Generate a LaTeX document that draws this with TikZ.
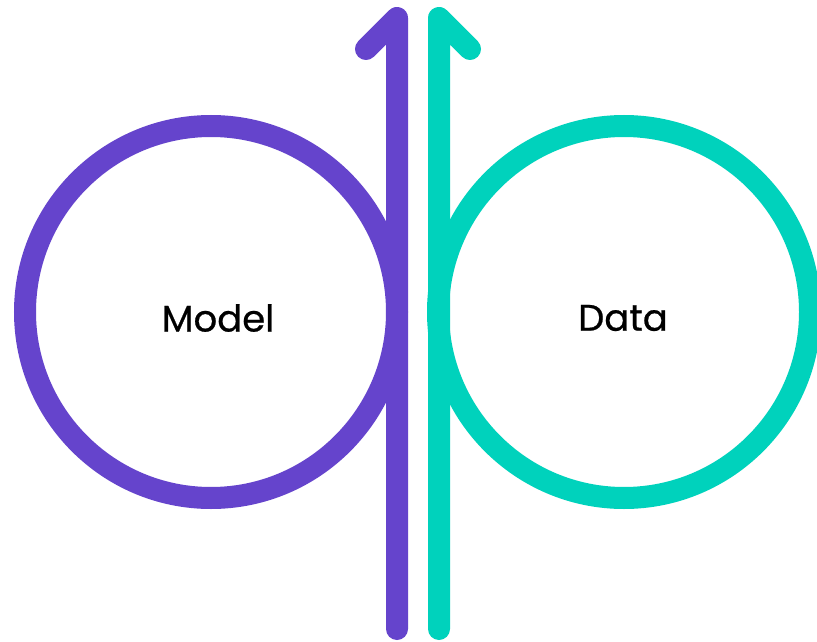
\documentclass[tikz,border=0pt]{standalone}
\usepackage{fontspec}
\setmainfont{Poppins}
\newfontfamily\lblfont{Poppins}[FakeBold=0.6]
\definecolor{mpurple}{RGB}{101,68,204}
\definecolor{mteal}{RGB}{0,210,188}
\begin{document}
\begin{tikzpicture}[x=1pt,y=-1pt,
  ring/.style={circle, draw=#1, line width=22pt, minimum size=372pt, inner sep=0pt},
  lbl/.style={font=\lblfont\fontsize{37}{40}\selectfont, text=black, inner sep=0pt},
  flow/.style={draw=#1, line width=22pt, line cap=round, line join=round}]
\useasboundingbox[fill=white] (0,0) rectangle (817,642);
\node[ring=mpurple] (model) at (211,312) {};
\node[lbl] (modeltxt) at (218,318) {Model};
\coordinate (pbot) at (397,629);
\coordinate (ptop) at (397,18);
\coordinate (parm) at (366,49);
\draw[flow=mpurple] (pbot) -- (ptop) -- (parm);
\node[ring=mteal] (data) at (624,312) {};
\node[lbl] (datatxt) at (623,318) {Data};
\coordinate (tbot) at (439,629);
\coordinate (ttop) at (439,18);
\coordinate (tarm) at (470,49);
\draw[flow=mteal] (tbot) -- (ttop) -- (tarm);
\end{tikzpicture}
\end{document}
